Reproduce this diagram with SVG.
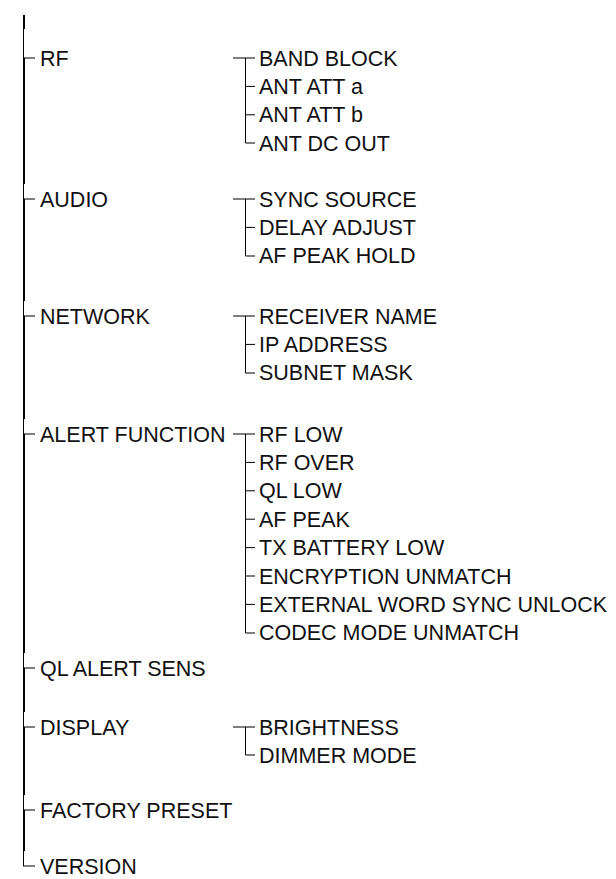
<svg xmlns="http://www.w3.org/2000/svg" width="616" height="879" viewBox="0 0 616 879">
<style>
text{font-family:"Liberation Sans",Arial,sans-serif;font-size:21.5px;fill:#111}
.l{stroke:#000;stroke-width:1;fill:none}
.m{stroke:#000;stroke-width:2;fill:none}
</style>
<rect width="616" height="879" fill="#fff"/>
<g id="connectors">
<path class="m" d="M24 15V29M24 58V184M24 199V301M24 316V419M24 434V653M24 668V712M24 727V795M24 810V851"/>
<path class="l" d="M23.5 29V58M23.5 184V199M23.5 301V316M23.5 419V434M23.5 653V668M23.5 712V727M23.5 795V810M23.5 851V866"/>
<path class="l" d="M23.5 58H35M23.5 199H35M23.5 316H35M23.5 434H35M23.5 668H35M23.5 727H35M23.5 810H35M23 866H35"/>
<path class="l" d="M233 58H255M245.5 58V143H255M245.5 86.4H255M245.5 114.8H255"/>
<path class="l" d="M233 199H255M245.5 199V256H255M245.5 227.4H255"/>
<path class="l" d="M233 316H255M245.5 316V373H255M245.5 344.4H255"/>
<path class="l" d="M233 434H255M245.5 434V633H255M245.5 462.4H255M245.5 490.8H255M245.5 519.2H255M245.5 547.6H255M245.5 576H255M245.5 604.4H255"/>
<path class="l" d="M233 727H255M245.5 727V755H255"/>
</g>
<g id="rf"><text x="40" y="65.5">RF</text></g>
<g id="band-block"><text x="259" y="65.5">BAND BLOCK</text></g>
<g id="ant-att-a"><text x="259" y="93.9">ANT ATT a</text></g>
<g id="ant-att-b"><text x="259" y="122.3">ANT ATT b</text></g>
<g id="ant-dc-out"><text x="259" y="150.7">ANT DC OUT</text></g>
<g id="audio"><text x="40" y="206.5">AUDIO</text></g>
<g id="sync-source"><text x="259" y="206.5">SYNC SOURCE</text></g>
<g id="delay-adjust"><text x="259" y="234.9">DELAY ADJUST</text></g>
<g id="af-peak-hold"><text x="259" y="263.3">AF PEAK HOLD</text></g>
<g id="network"><text x="40" y="323.5">NETWORK</text></g>
<g id="receiver-name"><text x="259" y="323.5">RECEIVER NAME</text></g>
<g id="ip-address"><text x="259" y="351.9">IP ADDRESS</text></g>
<g id="subnet-mask"><text x="259" y="380.3">SUBNET MASK</text></g>
<g id="alert-function"><text x="40" y="441.5">ALERT FUNCTION</text></g>
<g id="rf-low"><text x="259" y="441.5">RF LOW</text></g>
<g id="rf-over"><text x="259" y="469.9">RF OVER</text></g>
<g id="ql-low"><text x="259" y="498.3">QL LOW</text></g>
<g id="af-peak"><text x="259" y="526.7">AF PEAK</text></g>
<g id="tx-battery-low"><text x="259" y="555.1">TX BATTERY LOW</text></g>
<g id="encryption-unmatch"><text x="259" y="583.5">ENCRYPTION UNMATCH</text></g>
<g id="external-word-sync-unlock"><text x="259" y="611.9">EXTERNAL WORD SYNC UNLOCK</text></g>
<g id="codec-mode-unmatch"><text x="259" y="640.3">CODEC MODE UNMATCH</text></g>
<g id="ql-alert-sens"><text x="40" y="675.5">QL ALERT SENS</text></g>
<g id="display"><text x="40" y="734.5">DISPLAY</text></g>
<g id="brightness"><text x="259" y="734.5">BRIGHTNESS</text></g>
<g id="dimmer-mode"><text x="259" y="762.9">DIMMER MODE</text></g>
<g id="factory-preset"><text x="40" y="817.5">FACTORY PRESET</text></g>
<g id="version"><text x="40" y="873.5">VERSION</text></g>
</svg>
